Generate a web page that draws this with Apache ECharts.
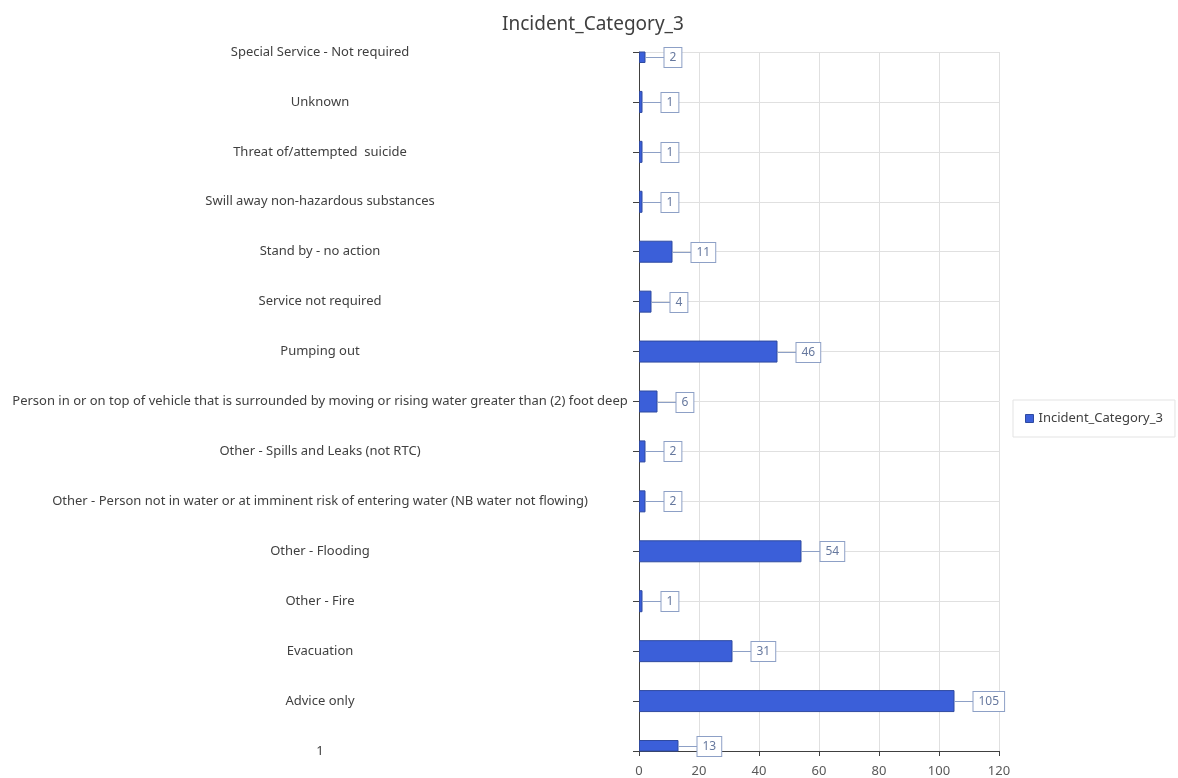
<!DOCTYPE html>
<html>
<head>
<meta charset="utf-8">
<script src="https://cdn.jsdelivr.net/npm/echarts@6/dist/echarts.min.js"></script>
<style>html,body{margin:0;padding:0;background:#fff}#c{width:1178px;height:778px}</style>
</head>
<body>
<div id="c"></div>
<script>
// Categories listed bottom to top
var categories = [
  '1',
  'Advice only',
  'Evacuation',
  'Other - Fire',
  'Other - Flooding',
  'Other - Person not in water or at imminent risk of entering water (NB water not flowing)',
  'Other - Spills and Leaks (not RTC)',
  'Person in or on top of vehicle that is surrounded by moving or rising water greater than (2) foot deep',
  'Pumping out',
  'Service not required',
  'Stand by - no action',
  'Swill away non-hazardous substances',
  'Threat of/attempted  suicide',
  'Unknown',
  'Special Service - Not required'
];
var values = [13, 105, 31, 1, 54, 2, 2, 6, 46, 4, 11, 1, 1, 1, 2];
var seriesName = 'Incident_Category_3';
var xTicks = {min: 0, max: 120, interval: 20};

var font = 'Noto Sans';
var barColor = '#3b5fd9';
var barBorder = '#2f4aa0';
var boxColor = '#8da0c6';
var barThickness = 21;
var labelGap = 19;

var chart = echarts.init(document.getElementById('c'), null, {renderer: 'canvas'});
chart.setOption({
  animation: false,
  backgroundColor: '#ffffff',
  title: {
    text: seriesName,
    left: 497, top: 10,
    textStyle: {fontFamily: font, fontSize: 19, fontWeight: 'normal', color: '#404040'}
  },
  legend: {
    data: [{name: seriesName, icon: 'rect', itemStyle: {color: barColor, borderColor: barBorder, borderWidth: 1}}],
    left: 1013, top: 400,
    itemWidth: 8, itemHeight: 8,
    padding: [12, 12, 12, 12],
    borderColor: '#e3e3e3', borderWidth: 1,
    textStyle: {fontFamily: font, fontSize: 13, color: '#404040'}
  },
  grid: {left: 639, right: 179, top: 52, bottom: 26, containLabel: false},
  xAxis: {
    type: 'value', min: xTicks.min, max: xTicks.max, interval: xTicks.interval,
    axisLine: {show: true, lineStyle: {color: '#404040', width: 1}},
    axisTick: {show: true, length: 5, lineStyle: {color: '#404040'}},
    axisLabel: {fontFamily: font, fontSize: 13, color: '#595959', margin: 14},
    splitLine: {show: true, lineStyle: {color: '#e0e0e0'}}
  },
  yAxis: {
    type: 'category', data: categories, boundaryGap: false,
    axisLine: {show: true, lineStyle: {color: '#404040', width: 1}},
    axisTick: {show: true, length: 6, lineStyle: {color: '#404040'}},
    axisLabel: {fontFamily: font, fontSize: 13, color: '#404040', align: 'center', margin: 319, interval: 0},
    splitLine: {show: true, lineStyle: {color: '#e0e0e0'}}
  },
  series: [{
    name: seriesName,
    type: 'custom',
    itemStyle: {color: barColor},
    encode: {x: 0, y: 1},
    data: values.map(function (v, i) { return [v, i]; }),
    renderItem: function (params, api) {
      var val = api.value(0);
      var idx = api.value(1);
      var p0 = api.coord([0, idx]);
      var p1 = api.coord([val, idx]);
      var cs = params.coordSys;
      var rect = echarts.graphic.clipRectByRect(
        {x: p0[0] + 0.5, y: p0[1] - barThickness / 2, width: p1[0] - p0[0] - 0.5, height: barThickness},
        {x: cs.x, y: cs.y, width: cs.width, height: cs.height}
      );
      if (!rect) return null;
      var cy = Math.round(rect.y + rect.height / 2) + 0.5;
      var xe = p1[0];
      return {
        type: 'group',
        children: [
          {type: 'rect', shape: rect, style: {fill: barColor, stroke: barBorder, lineWidth: 1}},
          {type: 'line', shape: {x1: xe, y1: cy, x2: xe + labelGap, y2: cy}, style: {stroke: boxColor, lineWidth: 1}},
          {type: 'text', x: Math.round(xe + labelGap) + 0.5, y: cy,
            style: {
              text: String(val), align: 'left', verticalAlign: 'middle',
              font: '12px "' + font + '"', fill: '#66789e',
              backgroundColor: '#ffffff', borderColor: boxColor, borderWidth: 1,
              padding: [4, 5, 3, 5]
            }}
        ]
      };
    }
  }]
});
</script>
</body>
</html>
